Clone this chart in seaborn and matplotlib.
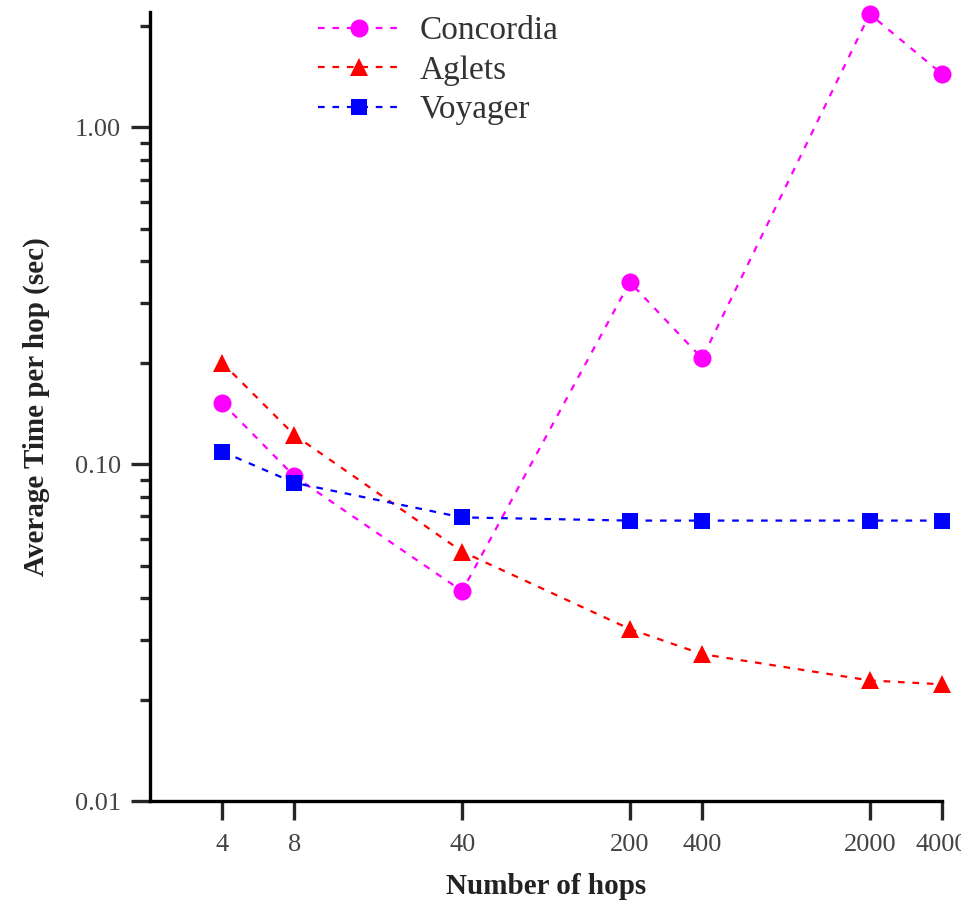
import matplotlib
matplotlib.use("Agg")
import matplotlib.pyplot as plt
import seaborn as sns
import pandas as pd
from matplotlib.ticker import FixedLocator, FixedFormatter, LogLocator, NullFormatter

hops = [4, 8, 40, 200, 400, 2000, 4000]
hop_labels = ["4", "8", "40", "200", "400", "2000", "4000"]
concordia = [0.152, 0.092, 0.042, 0.347, 0.206, 2.17, 1.44]
aglets = [0.200, 0.122, 0.055, 0.0324, 0.0273, 0.0228, 0.0222]
voyager = [0.109, 0.088, 0.0695, 0.068, 0.068, 0.068, 0.068]
series_names = ["Concordia", "Aglets", "Voyager"]
y_ticks = [0.01, 0.10, 1.00]
y_tick_labels = ["0.01", "0.10", "1.00"]

sns.set_style("white")
plt.rcParams['font.family'] = ['Liberation Serif', 'DejaVu Serif']

fig = plt.figure(figsize=(9.61, 9.02), dpi=100)
ax = fig.add_axes([150/961, 101/902, 792/961, 789/902])

styles = {
    "Concordia": dict(color="#FF00FF", marker="o", ms=13),
    "Aglets": dict(color="#FF0000", marker="^", ms=13),
    "Voyager": dict(color="#0000FF", marker="s", ms=12),
}
data = {"Concordia": concordia, "Aglets": aglets, "Voyager": voyager}

for name in series_names:
    df = pd.DataFrame({"hops": hops, "time": data[name]})
    st = styles[name]
    sns.lineplot(data=df, x="hops", y="time", ax=ax, color=st["color"],
                 marker=st["marker"], markersize=st["ms"], markeredgewidth=0,
                 linewidth=1.6, linestyle=(0, (3, 3.5)), label=name, clip_on=False)

ax.set_xscale("log")
ax.set_yscale("log")
ax.set_xlim(2.0, 4000)
ax.set_ylim(0.01, 2.2)

ax.xaxis.set_major_locator(FixedLocator(hops))
ax.xaxis.set_major_formatter(FixedFormatter(hop_labels))
ax.xaxis.set_minor_locator(FixedLocator([]))
ax.yaxis.set_major_locator(FixedLocator(y_ticks))
ax.yaxis.set_major_formatter(FixedFormatter(y_tick_labels))
ax.yaxis.set_minor_locator(LogLocator(base=10, subs=range(2, 10)))
ax.yaxis.set_minor_formatter(NullFormatter())

for s in ["top", "right"]:
    ax.spines[s].set_visible(False)
for s in ["left", "bottom"]:
    ax.spines[s].set_linewidth(2.4)
    ax.spines[s].set_color("black")

ax.tick_params(axis="x", which="major", direction="out", length=14, width=2.4,
               labelsize=19, labelcolor="#444444", pad=10, bottom=True)
ax.tick_params(axis="y", which="major", direction="out", length=14, width=2.4,
               labelsize=19, labelcolor="#444444", pad=7, left=True)
ax.tick_params(axis="y", which="minor", direction="out", length=7, width=2.4, left=True)

ax.set_xlabel("Number of hops", fontsize=21, fontweight="bold", color="#222222", labelpad=12)
ax.set_ylabel("Average Time per hop (sec)", fontsize=21, fontweight="bold", color="#222222", labelpad=18)

leg = ax.legend(loc="upper left", bbox_to_anchor=(0.195, 1.012), frameon=False,
                fontsize=24, handlelength=2.5, handletextpad=0.55, labelspacing=0.27,
                labelcolor="#333333", borderaxespad=0.0)

fig.savefig("out.png", dpi=100)
